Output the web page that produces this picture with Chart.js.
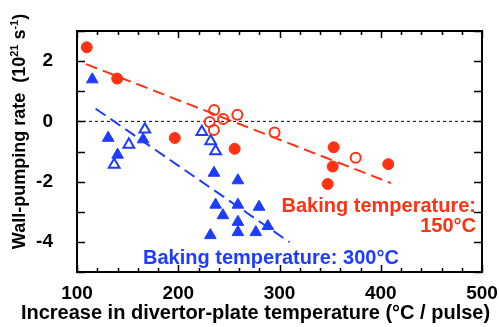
<!DOCTYPE html>
<html>
<head>
<meta charset="utf-8">
<script src="https://cdn.jsdelivr.net/npm/chart.js@4.4.0/dist/chart.umd.min.js"></script>
<style>
  html, body { margin: 0; padding: 0; background: #fff; overflow: hidden; }
  canvas { display: block; }
</style>
</head>
<body>
<canvas id="chart" width="499" height="327"></canvas>
<script>
// Colours
const RED = '#ff3214';
const BLUE = '#1e3cff';
const FONT = '"Liberation Sans", Arial, Helvetica, sans-serif';

// Baking temperature 150 °C — filled circles
const red150FilledX = [109.6, 139.7, 196.6, 255.7, 353.5, 352.5, 347.6, 407.4];
const red150FilledY = [2.46, 1.42, -0.55, -0.91, -0.86, -1.50, -2.08, -1.42];

// Baking temperature 150 °C — open circles
const red150OpenX = [235.5, 231.0, 244.3, 235.2, 258.4, 295.1, 375.2];
const red150OpenY = [0.38, -0.02, 0.08, -0.29, 0.22, -0.37, -1.21];

// Baking temperature 300 °C — filled triangles
const blue300FilledX = [115.1, 130.8, 140.1, 165.3, 235.3, 258.9, 236.9, 244.1, 258.9, 258.9, 258.9, 231.7, 279.8, 276.6, 288.5];
const blue300FilledY = [1.39, -0.55, -1.11, -0.60, -1.71, -1.96, -2.77, -3.12, -2.77, -3.34, -3.68, -3.78, -2.84, -3.68, -3.48];

// Baking temperature 300 °C — open triangles
const blue300OpenX = [167.0, 151.2, 136.7, 223.3, 232.0, 236.9];
const blue300OpenY = [-0.27, -0.77, -1.44, -0.35, -0.66, -0.99];

// Linear trend lines (end points)
const trend150X = [108.9, 410.1];
const trend150Y = [1.90, -2.05];
const trend300X = [118.4, 309.9];
const trend300Y = [0.42, -4.01];

// Zero reference line
const zeroX = [100, 500];
const zeroY = [0, 0];

// Axis ticks
const xTickLabels = [100, 200, 300, 400, 500];
const yTickLabels = [-4, -2, 0, 2];

const pts = (xs, ys) => xs.map((x, i) => ({ x, y: ys[i] }));

// Frame, inward tick marks, axis titles and annotations
const decorations = {
  id: 'decorations',
  afterDatasetsDraw(chart) {
    const { ctx, chartArea: a, scales: { x, y } } = chart;
    ctx.save();
    ctx.strokeStyle = '#000';

    // inward tick marks on all four sides
    ctx.lineWidth = 1.5;
    ctx.beginPath();
    x.ticks.forEach(t => {
      const px = Math.round(x.getPixelForValue(t.value)) + 0.5;
      const len = xTickLabels.includes(t.value) ? 7 : 4;
      ctx.moveTo(px, a.bottom); ctx.lineTo(px, a.bottom - len);
      ctx.moveTo(px, a.top); ctx.lineTo(px, a.top + len);
    });
    y.ticks.forEach(t => {
      const py = Math.round(y.getPixelForValue(t.value)) + 0.5;
      ctx.moveTo(a.left, py); ctx.lineTo(a.left + 8, py);
      ctx.moveTo(a.right, py); ctx.lineTo(a.right - 8, py);
    });
    ctx.stroke();

    // frame
    ctx.lineWidth = 2;
    ctx.strokeRect(a.left, a.top, a.right - a.left, a.bottom - a.top);

    // annotations
    ctx.font = 'bold 20px ' + FONT;
    ctx.textBaseline = 'alphabetic';
    ctx.fillStyle = RED;
    ctx.textAlign = 'right';
    ctx.fillText('Baking temperature:', a.right - 6, 212);
    ctx.fillText('150°C', a.right - 6, 232);
    ctx.fillStyle = BLUE;
    ctx.textAlign = 'left';
    ctx.fillText('Baking temperature: 300°C', 143, 264);

    // x-axis title
    ctx.fillStyle = '#000';
    ctx.textAlign = 'center';
    ctx.font = 'bold 20px ' + FONT;
    ctx.fillText('Increase in divertor-plate temperature (°C / pulse)', 255.5, 319);

    // y-axis title with superscripts
    const big = 'bold 18px ' + FONT;
    const small = 'bold 11px ' + FONT;
    const parts = [
      ['Wall-pumping rate  (10', big, 0],
      ['21', small, -7],
      [' s', big, 0],
      ['-1', small, -7],
      [')', big, 0]
    ];
    let total = 0;
    parts.forEach(p => { ctx.font = p[1]; total += ctx.measureText(p[0]).width; });
    ctx.translate(25, 131.5);
    ctx.rotate(-Math.PI / 2);
    ctx.textAlign = 'left';
    let cx = -total / 2;
    parts.forEach(p => {
      ctx.font = p[1];
      ctx.fillText(p[0], cx, p[2]);
      cx += ctx.measureText(p[0]).width;
    });
    ctx.restore();
  }
};

const noPad = s => { s.paddingTop = 0; s.paddingBottom = 0; s.paddingLeft = 0; s.paddingRight = 0; };

new Chart(document.getElementById('chart'), {
  type: 'scatter',
  data: {
    datasets: [
      {
        data: pts(red150FilledX, red150FilledY),
        pointStyle: 'circle', pointRadius: 5.5, pointBorderWidth: 1,
        backgroundColor: RED, borderColor: RED, showLine: false
      },
      {
        data: pts(red150OpenX, red150OpenY),
        pointStyle: 'circle', pointRadius: 5, pointBorderWidth: 2,
        backgroundColor: 'rgba(0,0,0,0)', borderColor: RED, showLine: false
      },
      {
        data: pts(blue300FilledX, blue300FilledY),
        pointStyle: 'triangle', pointRadius: 6.7, pointBorderWidth: 1,
        backgroundColor: BLUE, borderColor: BLUE, showLine: false
      },
      {
        data: pts(blue300OpenX, blue300OpenY),
        pointStyle: 'triangle', pointRadius: 6.2, pointBorderWidth: 2,
        backgroundColor: 'rgba(0,0,0,0)', borderColor: BLUE, showLine: false
      },
      {
        data: pts(trend150X, trend150Y),
        showLine: true, pointRadius: 0, borderColor: RED, borderWidth: 2,
        borderDash: [12, 6], fill: false
      },
      {
        data: pts(trend300X, trend300Y),
        showLine: true, pointRadius: 0, borderColor: BLUE, borderWidth: 2,
        borderDash: [12, 6], fill: false
      },
      {
        data: pts(zeroX, zeroY),
        showLine: true, pointRadius: 0, borderColor: '#000', borderWidth: 1,
        borderDash: [3, 3], fill: false
      }
    ]
  },
  options: {
    responsive: false,
    devicePixelRatio: 1,
    animation: false,
    events: [],
    layout: { padding: { top: 31, right: 17, left: 0, bottom: 0 } },
    plugins: { legend: { display: false }, tooltip: { enabled: false } },
    scales: {
      x: {
        type: 'linear', min: 100, max: 500,
        grid: { display: false, drawTicks: false },
        border: { display: false },
        ticks: {
          stepSize: 20, autoSkip: false, maxRotation: 0, padding: 10,
          color: '#000', font: { family: FONT, size: 19, weight: 'bold' },
          callback: v => xTickLabels.includes(v) ? String(v) : ''
        },
        afterFit: s => { s.height = 55; noPad(s); }
      },
      y: {
        type: 'linear', min: -5, max: 3,
        grid: { display: false, drawTicks: false },
        border: { display: false },
        ticks: {
          stepSize: 1, autoSkip: false, padding: 24,
          color: '#000', font: { family: FONT, size: 19, weight: 'bold' },
          callback: v => yTickLabels.includes(v) ? String(v) : ''
        },
        afterFit: s => { s.width = 77; noPad(s); }
      }
    }
  },
  plugins: [decorations]
});
</script>
</body>
</html>
